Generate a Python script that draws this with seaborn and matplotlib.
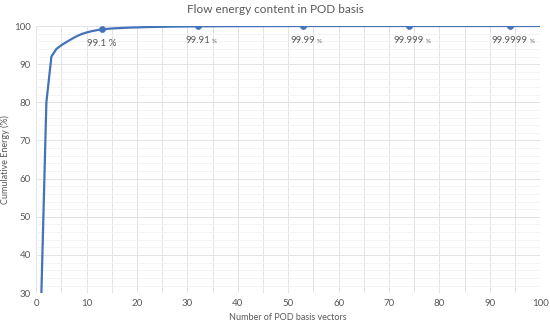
import matplotlib
matplotlib.use("Agg")
import matplotlib.pyplot as plt
import seaborn as sns
import pandas as pd
import numpy as np

# curve values
n_vectors = [1, 2, 3, 4, 5, 6, 7, 8, 9, 10, 11, 12, 13, 15, 18, 22, 26, 32, 40, 53, 60, 74, 85, 94, 100]
energy = [29.5, 80, 92, 94, 95, 95.8, 96.6, 97.3, 97.9, 98.3, 98.65, 98.9, 99.1, 99.35, 99.55, 99.72, 99.82,
          99.91, 99.96, 99.99, 99.995, 99.999, 99.9995, 99.9999, 100]

# marked points and labels
mark_x = [13, 32, 53, 74, 94]
mark_y = [99.1, 99.91, 99.99, 99.999, 99.9999]
mark_num = ["99.1 %", "99.91", "99.99", "99.999", "99.9999"]
mark_pct = ["", "%", "%", "%", "%"]

sns.set_theme(style="white")
plt.rcParams['font.family'] = ['Lato', 'DejaVu Sans']

blue = "#4473B9"
grey = "#595959"

df = pd.DataFrame({"n": n_vectors, "e": energy})
mk = pd.DataFrame({"n": mark_x, "e": mark_y})

fig = plt.figure(figsize=(5.5, 3.25), dpi=100)
ax = fig.add_axes([0.066, 0.098, 0.916, 0.822])

sns.lineplot(data=df, x="n", y="e", ax=ax, color=blue, linewidth=1.6, zorder=3)
sns.scatterplot(data=mk, x="n", y="e", ax=ax, color=blue, s=20, edgecolor=blue, zorder=4)

ax.set_xlim(0, 100)
ax.set_ylim(30, 100)
ax.set_xticks(np.arange(0, 101, 10))
ax.set_yticks(np.arange(30, 101, 10))
ax.set_xticks(np.arange(5, 100, 10), minor=True)
ax.set_yticks(np.arange(30, 101, 2), minor=True)
ax.tick_params(which="both", length=0, labelsize=7, colors=grey, pad=4)

ax.grid(which="minor", axis="y", color="#f2f2f2", linewidth=0.6)
ax.grid(which="major", color="#e3e3e3", linewidth=0.7)
ax.grid(which="minor", axis="x", color="#e3e3e3", linewidth=0.7)
ax.set_axisbelow(True)
for s in ax.spines.values():
    s.set_visible(False)

ax.set_xlabel("Number of POD basis vectors", fontsize=6.5, color=grey, labelpad=4)
ax.set_ylabel("Cumulative Energy (%)", fontsize=6.5, color=grey, labelpad=2)
ax.yaxis.set_label_coords(-0.052, 0.5)
fig.suptitle("Flow energy content in POD basis", fontsize=8.5, color=grey, y=0.988)

fig.canvas.draw()
renderer = fig.canvas.get_renderer()
for x, y, num, pct in zip(mark_x, mark_y, mark_num, mark_pct):
    t = ax.annotate(num, (x, y), xytext=(0, -7), textcoords="offset points",
                    ha="center", va="top", fontsize=7, color=grey)
    if pct:
        bb = t.get_window_extent(renderer)
        inv = ax.transData.inverted()
        xr, yb = inv.transform((bb.x1 + 1.5, bb.y0 + 1))
        ax.text(xr, yb, pct, ha="left", va="bottom", fontsize=4.5, color=grey)

fig.savefig("out.png", dpi=100)
